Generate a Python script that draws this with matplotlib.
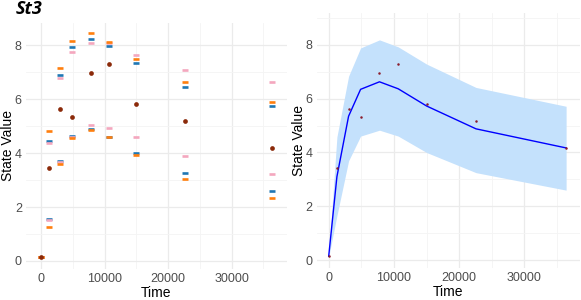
import matplotlib
matplotlib.use("Agg")
import matplotlib.pyplot as plt
from matplotlib.ticker import MultipleLocator

# ---- data ----
time = [0, 1260, 3050, 4890, 7790, 10660, 15010, 22590, 36410]
observed = [0.14, 3.44, 5.63, 5.32, 6.97, 7.31, 5.80, 5.17, 4.17]

blue_lo = [0.14, 1.54, 3.71, 4.63, 4.90, 4.60, 4.01, 3.26, 2.60]
blue_hi = [0.14, 4.43, 6.88, 7.93, 8.22, 7.95, 7.32, 6.46, 5.75]
orange_lo = [0.14, 1.25, 3.58, 4.57, 4.86, 4.58, 3.94, 3.05, 2.33]
orange_hi = [0.14, 4.80, 7.14, 8.14, 8.43, 8.12, 7.47, 6.62, 5.89]
pink_lo = [0.14, 1.52, 3.65, 4.61, 5.03, 4.94, 4.60, 3.89, 3.21]
pink_hi = [0.14, 4.37, 6.79, 7.73, 8.06, 8.06, 7.64, 7.06, 6.63]

band_lo = [0.12, 1.65, 3.69, 4.61, 4.83, 4.61, 4.00, 3.25, 2.60]
band_hi = [0.16, 4.58, 6.84, 7.89, 8.19, 7.93, 7.29, 6.42, 5.72]
mean_line = [0.14, 3.10, 5.35, 6.35, 6.63, 6.37, 5.73, 4.88, 4.17]

x_ticks = [0, 10000, 20000, 30000]
y_ticks = [0, 2, 4, 6, 8]

plt.rcParams['font.family'] = ['Liberation Sans', 'DejaVu Sans']

W, H = 581, 300
fig = plt.figure(figsize=(W / 100, H / 100), dpi=100)

def px_axes(x0, x1, y0, y1):
    return fig.add_axes([x0 / W, 1 - y1 / H, (x1 - x0) / W, (y1 - y0) / H])

def style(ax):
    for s in ax.spines.values():
        s.set_visible(False)
    ax.set_xticks(x_ticks)
    ax.set_yticks(y_ticks)
    ax.xaxis.set_minor_locator(MultipleLocator(5000))
    ax.yaxis.set_minor_locator(MultipleLocator(1))
    ax.grid(which='major', color='#EBEBEB', lw=0.9)
    ax.grid(which='minor', color='#F4F4F4', lw=0.6)
    ax.set_axisbelow(True)
    ax.tick_params(which='both', length=0, labelsize=9, labelcolor='#4D4D4D', pad=3)
    ax.set_xlabel('Time', fontsize=10, labelpad=1, color='black')
    ax.set_ylabel('State Value', fontsize=10, labelpad=0, color='black')

# ---- left panel ----
ax1 = px_axes(26, 286.7, 22.7, 268.8)
style(ax1)
ax1.set_xlim(-2360, 38650)
ax1.set_ylim(-0.29, 8.83)
mk = dict(marker='_', ls='none', markersize=4.6, mew=1.9)
ax1.plot(time, blue_lo, color='#1F77B4', **mk)
ax1.plot(time, blue_hi, color='#1F77B4', **mk)
ax1.plot(time, pink_lo, color='#F4A7BE', **mk)
ax1.plot(time, pink_hi, color='#F4A7BE', **mk)
ax1.plot(time, orange_lo, color='#FF7F0E', **mk)
ax1.plot(time, orange_hi, color='#FF7F0E', **mk)
ax1.plot(time, observed, 'o', color='#8B2A0A', markersize=3.4, mew=0)

fig.text(16 / W, 1 - 9.5 / H, 'St3', fontsize=13, fontweight='bold', fontstyle='italic',
         family=['Open Sans', 'DejaVu Sans'], ha='left', va='center')

# ---- right panel ----
ax2 = px_axes(316.7, 580, 13, 267.8)
style(ax2)
ax2.set_xlim(-1840, 38540)
ax2.set_ylim(-0.29, 9.19)
ax2.fill_between(time, band_lo, band_hi, color='#C4E1FC', lw=0)
ax2.plot(time, mean_line, color='#0000FF', lw=1.0)
ax2.plot(time, observed, 'o', color='#8B1C2C', markersize=1.8, mew=0)

fig.savefig('out.png', dpi=100)
